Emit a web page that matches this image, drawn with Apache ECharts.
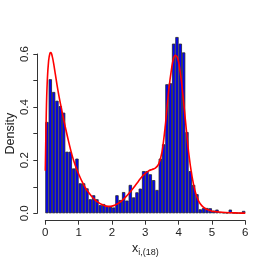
<!DOCTYPE html>
<html>
<head>
<meta charset="utf-8">
<script src="https://cdn.jsdelivr.net/npm/echarts@6/dist/echarts.min.js"></script>
<style>html,body{margin:0;padding:0;background:#fff}#c{width:258px;height:258px}</style>
</head>
<body>
<div id="c"></div>
<script>
// Histogram bin left edges (width 0.1) and densities
const binStarts = [0.0,0.1,0.2,0.3,0.4,0.5,0.6,0.7,0.8,0.9,1.0,1.1,1.2,1.3,1.4,1.5,1.6,1.7,1.8,1.9,2.0,2.1,2.2,2.3,2.4,2.5,2.6,2.7,2.8,2.9,3.0,3.1,3.2,3.3,3.4,3.5,3.6,3.7,3.8,3.9,4.0,4.1,4.2,4.3,4.4,4.5,4.6,4.7,4.8,4.9,5.0,5.1,5.2,5.3,5.4,5.5,5.6,5.7,5.8,5.9];
const densities = [0.344,0.505,0.457,0.424,0.404,0.379,0.232,0.232,0.169,0.206,0.113,0.113,0.094,0.053,0.068,0.053,0.031,0.035,0.028,0.025,0.022,0.068,0.050,0.080,0.048,0.107,0.060,0.079,0.093,0.159,0.159,0.147,0.125,0.088,0.206,0.260,0.486,0.490,0.639,0.664,0.639,0.606,0.306,0.159,0.107,0.072,0.015,0.020,0.020,0.019,0.010,0.014,0.005,0.003,0.002,0.014,0.002,0.001,0.001,0.009];
// Kernel density curve
const curveX = [0.0,0.03,0.06,0.1,0.14,0.17,0.21,0.25,0.3,0.35,0.42,0.5,0.6,0.7,0.8,0.9,1.0,1.1,1.2,1.3,1.4,1.5,1.6,1.7,1.8,1.9,2.0,2.1,2.2,2.3,2.4,2.5,2.6,2.7,2.8,2.9,3.0,3.1,3.2,3.3,3.4,3.5,3.6,3.7,3.8,3.85,3.9,3.95,4.0,4.05,4.1,4.2,4.3,4.4,4.5,4.6,4.7,4.8,4.9,5.0,5.2,5.4,5.6,5.8,6.0];
const curveY = [0.16,0.38,0.50,0.575,0.603,0.605,0.59,0.565,0.525,0.485,0.435,0.385,0.325,0.27,0.22,0.18,0.148,0.12,0.097,0.078,0.062,0.05,0.04,0.033,0.028,0.026,0.027,0.031,0.038,0.048,0.06,0.074,0.089,0.105,0.122,0.138,0.15,0.16,0.165,0.17,0.185,0.23,0.33,0.46,0.555,0.585,0.595,0.59,0.57,0.53,0.48,0.355,0.23,0.14,0.08,0.046,0.028,0.018,0.012,0.008,0.005,0.003,0.002,0.001,0.0005];
const xTicks = [0,1,2,3,4,5,6];
const yTickLabels = ['0.0','0.2','0.4','0.6'];

const chart = echarts.init(document.getElementById('c'), null, {renderer:'canvas'});
const font = 'Liberation Sans, Arial, sans-serif';
chart.setOption({
  animation:false,
  backgroundColor:'#fff',
  grid:{left:45.3,right:12.7,top:54,bottom:44.7,containLabel:false,outerBoundsMode:'none'},
  xAxis:[
    {type:'category',data:binStarts.map(String),show:false,boundaryGap:true},
    {type:'value',min:0,max:6,interval:1,offset:7.4,position:'bottom',
     axisLine:{show:true,onZero:false,lineStyle:{color:'#333',width:1}},
     axisTick:{show:true,length:4,lineStyle:{color:'#333'}},
     axisLabel:{color:'#222',fontSize:11.5,fontFamily:font,margin:6,
       formatter:v=>xTicks.includes(v)?String(v):''},
     splitLine:{show:false},
     name:'{a|x}{b|i,(18)}',nameLocation:'middle',nameGap:20,nameMoveOverlap:false,
     nameTextStyle:{rich:{a:{fontSize:12.5,fontFamily:font,color:'#222'},
                          b:{fontSize:9,fontFamily:font,color:'#222',padding:[7,0,0,0]}}}}
  ],
  yAxis:{type:'value',min:0,max:0.6,interval:0.1,offset:8,
    axisLine:{show:true,onZero:false,lineStyle:{color:'#333',width:1}},
    axisTick:{show:true,length:4,lineStyle:{color:'#333'}},
    axisLabel:{color:'#222',fontSize:11.5,fontFamily:font,rotate:90,margin:6,
      formatter:v=>{const s=v.toFixed(1);return yTickLabels.includes(s)?s:'';}},
    splitLine:{show:false},
    name:'Density',nameLocation:'middle',nameRotate:90,nameGap:20,nameMoveOverlap:false,
    nameTextStyle:{fontSize:12.5,fontFamily:font,color:'#222'}},
  series:[
    {type:'bar',xAxisIndex:0,data:densities,barWidth:'100%',barCategoryGap:'0%',clip:false,
     itemStyle:{color:'#0000ff',borderColor:'#2a2a2a',borderWidth:0.8}},
    {type:'line',xAxisIndex:1,data:curveX.map((x,i)=>[x,curveY[i]]),smooth:0.3,showSymbol:false,clip:false,
     lineStyle:{color:'#ff0000',width:1.6}}
  ]
});
</script>
</body>
</html>
